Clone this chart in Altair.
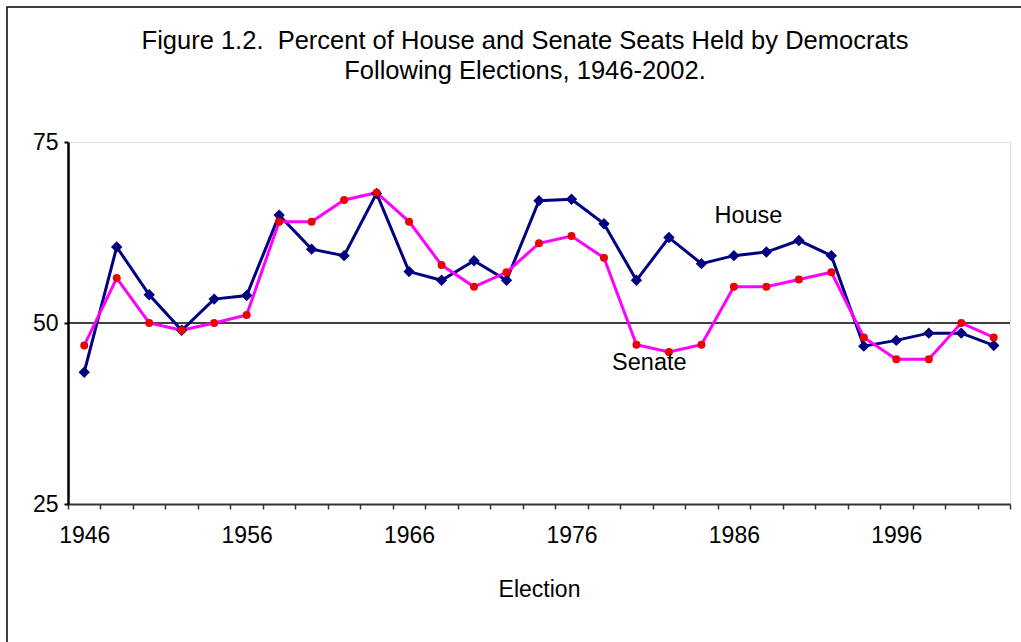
import altair as alt
import pandas as pd

years = list(range(1946, 2003, 2))
house = [43.2, 60.5, 53.9, 49.0, 53.3, 53.8, 64.9, 60.2, 59.3, 67.9,
         57.1, 55.9, 58.6, 55.9, 66.9, 67.1, 63.7, 55.9, 61.8, 58.2,
         59.3, 59.8, 61.4, 59.3, 46.8, 47.6, 48.6, 48.6, 46.9]
senate = [46.9, 56.2, 50.0, 49.0, 50.0, 51.1, 64.0, 64.0, 67.0, 68.0,
          64.0, 58.0, 55.0, 57.0, 61.0, 62.0, 59.0, 47.0, 46.0, 47.0,
          55.0, 55.0, 56.0, 57.0, 48.0, 45.0, 45.0, 50.0, 48.0]
label_names = ["House", "Senate"]
label_years = [1984.8, 1978.5]
label_vals = [63.8, 43.5]
title_lines = ["Figure 1.2.\u00a0\u00a0Percent of House and Senate Seats Held by Democrats",
               "Following Elections, 1946-2002."]

df = pd.DataFrame({"year": years, "house": house, "senate": senate})
lab = pd.DataFrame({"name": label_names, "year": label_years, "val": label_vals})

FONT = "Liberation Sans"
FS = 23
W, H = 942, 362

xscale = alt.Scale(domain=[1945, 2003], nice=False, zero=False)
yscale = alt.Scale(domain=[25, 75], nice=False, zero=False)

xaxis = alt.Axis(
    title="Election",
    values=list(range(1945, 2004, 2)),
    tickCount=30,
    labelExpr="(datum.value + 1 - 1946) % 10 == 0 ? toString(datum.value + 1) : ''",
    labelOffset=W / 58,
    labelOverlap=False,
    labelFlush=False,
    labelBound=False,
    labelPadding=15,
    tickSize=5,
    tickColor="#333333",
    tickWidth=1.5,
    domainColor="#333333",
    domainWidth=2,
    grid=False,
    labelFont=FONT,
    labelFontSize=FS,
    labelColor="black",
    titleFont=FONT,
    titleFontSize=FS,
    titleFontWeight="normal",
    titleColor="black",
    titlePadding=31,
)
yaxis = alt.Axis(
    title=None,
    values=[25, 50, 75],
    tickSize=4,
    tickColor="black",
    tickWidth=2,
    domainColor="black",
    domainWidth=2.5,
    grid=False,
    labelFont=FONT,
    labelFontSize=FS,
    labelColor="black",
    labelPadding=6,
)

X = lambda f: alt.X(f, scale=xscale, axis=xaxis)
Y = lambda f: alt.Y(f, scale=yscale, axis=yaxis)

base = alt.Chart(df)
one = pd.DataFrame({"k": [0]})

frame = alt.Chart(one).mark_rect(
    fill="transparent", stroke="black", strokeWidth=1.5
).encode(x=alt.value(-61), x2=alt.value(1200), y=alt.value(-135), y2=alt.value(800))

title = alt.Chart(one).mark_text(
    text=title_lines, align="center", baseline="alphabetic", font=FONT,
    fontSize=25.5, color="black", lineHeight=29.5
).encode(x=alt.value(W / 2 - 14), y=alt.value(-93))

rule50 = alt.Chart(one).mark_rule(color="black", strokeWidth=1.5).encode(
    y=alt.datum(50, scale=yscale, axis=yaxis)
)

house_line = base.mark_line(color="#000080", strokeWidth=3).encode(x=X("year:Q"), y=Y("house:Q"))
senate_line = base.mark_line(color="#FF00FF", strokeWidth=3).encode(x=X("year:Q"), y=Y("senate:Q"))
house_pts = base.mark_point(shape="diamond", filled=True, color="#000080", size=130, opacity=1).encode(
    x=X("year:Q"), y=Y("house:Q")
)
senate_pts = base.mark_point(shape="circle", filled=True, color="#EE0000", size=64, opacity=1).encode(
    x=X("year:Q"), y=Y("senate:Q")
)
labels = alt.Chart(lab).mark_text(
    align="left", baseline="alphabetic", font=FONT, fontSize=23.5, color="black"
).encode(x=X("year:Q"), y=Y("val:Q"), text="name:N")

chart = alt.layer(frame, title, rule50, house_line, senate_line, house_pts, senate_pts, labels).properties(
    width=W,
    height=H,
    autosize=alt.AutoSizeParams(type="none"),
    padding={"left": 68, "top": 142, "right": 11, "bottom": 138},
).configure_view(stroke="#808080", strokeWidth=2.5).configure(background="white")

chart.save("out.html", embed_options={"renderer": "svg", "actions": False})
